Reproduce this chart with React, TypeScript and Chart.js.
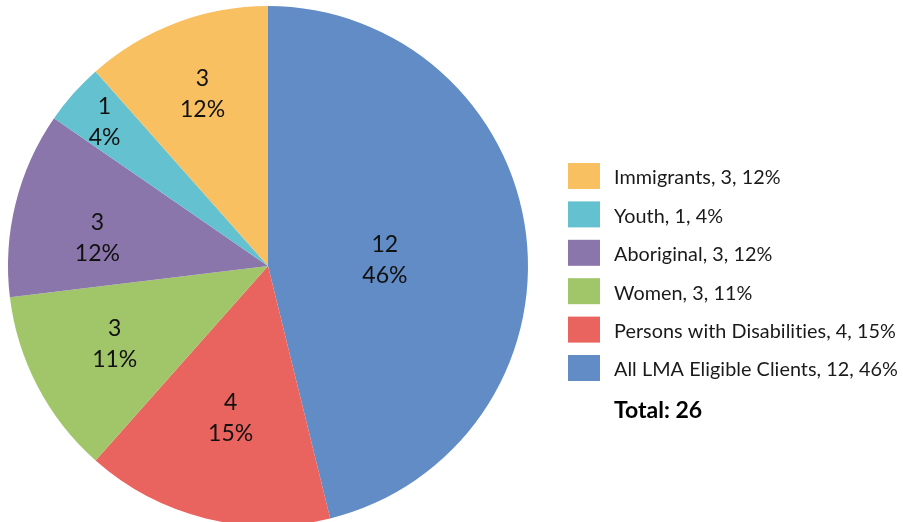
import React, { useEffect, useRef } from "react";
import { Chart, registerables } from "chart.js";

Chart.register(...registerables);

const categories = [
  "All LMA Eligible Clients",
  "Persons with Disabilities",
  "Women",
  "Aboriginal",
  "Youth",
  "Immigrants",
];
const counts = [12, 4, 3, 3, 1, 3];
const percentLabels = ["46%", "15%", "11%", "12%", "4%", "12%"];
const totalLabel = "Total: 26";

const colors = ["#628CC5", "#E9645E", "#A1C66A", "#8A76AB", "#64C1CF", "#F9C062"];
const labelRadius = [0.45, 0.6, 0.66, 0.665, 0.84, 0.71];
const labelAngleShift = [4, 0, 1, -4.5, 0, 0];
const FONT = "Lato, 'Open Sans', sans-serif";

const sliceLabelPlugin = {
  id: "sliceLabels",
  afterDatasetsDraw(chart: any) {
    const ctx = chart.ctx;
    const meta = chart.getDatasetMeta(0);
    ctx.save();
    ctx.fillStyle = "#111";
    ctx.font = `23px ${FONT}`;
    ctx.textAlign = "center";
    ctx.textBaseline = "middle";
    meta.data.forEach((arc: any, i: number) => {
      const { x, y, startAngle, endAngle, outerRadius } = arc.getProps(
        ["x", "y", "startAngle", "endAngle", "outerRadius"],
        true
      );
      const mid = (startAngle + endAngle) / 2 + (labelAngleShift[i] * Math.PI) / 180;
      const r = outerRadius * labelRadius[i];
      const cx = x + Math.cos(mid) * r;
      const cy = y + Math.sin(mid) * r;
      ctx.fillText(String(counts[i]), cx, cy - 15);
      ctx.fillText(percentLabels[i], cx, cy + 16);
    });
    ctx.restore();
  },
};

const legendPlugin = {
  id: "sideLegend",
  afterDraw(chart: any) {
    const ctx = chart.ctx;
    const boxX = 568;
    const textX = 614;
    const top = 163;
    const step = 38.4;
    ctx.save();
    ctx.textBaseline = "middle";
    ctx.textAlign = "left";
    try {
      (ctx as any).letterSpacing = "0.05px";
    } catch (e) {}
    const order = categories.map((_, i) => i).reverse();
    order.forEach((idx, row) => {
      const y = top + row * step;
      ctx.fillStyle = colors[idx];
      ctx.fillRect(boxX, y, 32, 26);
      ctx.fillStyle = "#1a1a1a";
      ctx.font = `19.8px ${FONT}`;
      ctx.fillText(`${categories[idx]}, ${counts[idx]}, ${percentLabels[idx]}`, textX, y + 15);
    });
    try {
      (ctx as any).letterSpacing = "0px";
    } catch (e) {}
    ctx.font = `bold 23px ${FONT}`;
    ctx.fillStyle = "#000";
    ctx.fillText(totalLabel, textX, 411);
    ctx.restore();
  },
};

export default function App() {
  const ref = useRef<HTMLCanvasElement | null>(null);
  useEffect(() => {
    document.body.style.margin = "0";
    if (!ref.current) return;
    const chart = new Chart(ref.current, {
      type: "pie",
      data: {
        labels: categories,
        datasets: [
          {
            data: counts,
            backgroundColor: colors,
            borderWidth: 0,
          },
        ],
      },
      options: {
        responsive: false,
        animation: false,
        layout: { padding: { left: 8, top: 6, right: 375, bottom: 4 } },
        plugins: {
          legend: { display: false },
          tooltip: { enabled: false },
        },
      },
      plugins: [sliceLabelPlugin, legendPlugin],
    });
    return () => chart.destroy();
  }, []);
  return (
    <div style={{ position: "absolute", left: 0, top: 0, width: 903, height: 522, overflow: "hidden", background: "#fff" }}>
      <canvas ref={ref} width={903} height={530} style={{ display: "block" }} />
    </div>
  );
}
